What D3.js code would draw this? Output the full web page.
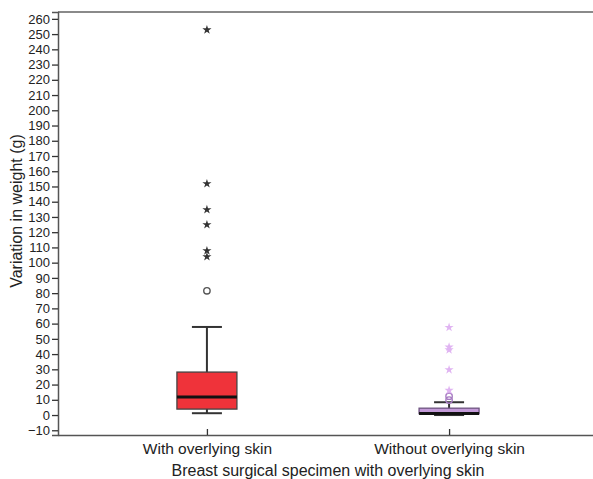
<!DOCTYPE html>
<html>
<head>
<meta charset="utf-8">
<script src="https://cdn.jsdelivr.net/npm/d3@7"></script>
<style>
  html, body { margin: 0; padding: 0; background: #fff; }
  svg { display: block; font-family: "Liberation Sans", Arial, Helvetica, sans-serif; }
</style>
</head>
<body>
<svg id="chart" width="593" height="479"></svg>
<script>
// Groups on the x axis
const categories = ["With overlying skin", "Without overlying skin"];

// Box statistics per group (g)
const whiskerLow  = [1.2, 0];
const q1          = [3.9, 0.9];
const median      = [11.8, 1.0];
const q3          = [28.2, 4.5];
const whiskerHigh = [57.8, 8.4];

// Outliers: circles are mild, stars are extreme
const mildOutliers = [
  [81.5],
  [9.8, 12.4]
];
const extremeOutliers = [
  [252.8, 151.8, 134.8, 124.9, 107.8, 103.9],
  [57.5, 44.6, 42.8, 29.7, 16.2]
];

// Axis ticks
const yTicks = [-10, 0, 10, 20, 30, 40, 50, 60, 70, 80, 90, 100, 110, 120, 130,
  140, 150, 160, 170, 180, 190, 200, 210, 220, 230, 240, 250, 260];

const boxFill = ["#ef333a", "#c39ad8"];
const boxStroke = ["#444444", "#6e5380"];
const outlierColor = ["#333333", "#e0b4f2"];
const circleStroke = ["#555555", "#a77cc2"];

const svg = d3.select("#chart");
const plot = { left: 58, right: 598, top: 12, bottom: 435 };

const x = d3.scalePoint()
  .domain(categories)
  .range([plot.left, plot.right])
  .padding(0.615);

const y = d3.scaleLinear()
  .domain([-13.1, 264.5])
  .range([plot.bottom, plot.top]);

const boxW = 60, capW = 30;

// frame: light top border
svg.append("line")
  .attr("x1", plot.left).attr("x2", plot.right)
  .attr("y1", plot.top).attr("y2", plot.top)
  .attr("stroke", "#8a8a8a").attr("stroke-width", 2);

// y axis
const yAxis = svg.append("g")
  .attr("transform", `translate(${plot.left},0)`)
  .call(d3.axisLeft(y).tickValues(yTicks).tickSize(6).tickPadding(2));
yAxis.select(".domain").attr("stroke", "#555").attr("stroke-width", 1.5);
yAxis.selectAll(".tick line").attr("stroke", "#333").attr("stroke-width", 1.3);
yAxis.selectAll(".tick text").attr("font-size", 13).attr("fill", "#222")
  .attr("font-family", "Liberation Sans, Arial, sans-serif");

// x axis
const xAxis = svg.append("g")
  .attr("transform", `translate(0,${plot.bottom})`)
  .call(d3.axisBottom(x).tickSize(6).tickSizeOuter(0).tickPadding(3));
xAxis.select(".domain").attr("stroke", "#555").attr("stroke-width", 1.5);
xAxis.selectAll(".tick line").attr("stroke", "#333").attr("stroke-width", 1.3)
  .attr("y2", -6);
xAxis.selectAll(".tick text").attr("font-size", 15.5).attr("fill", "#222")
  .attr("y", 8)
  .attr("font-family", "Liberation Sans, Arial, sans-serif");

// axis titles
svg.append("text")
  .attr("x", 328).attr("y", 476)
  .attr("text-anchor", "middle")
  .attr("font-size", 16).attr("fill", "#222")
  .text("Breast surgical specimen with overlying skin");

svg.append("text")
  .attr("transform", `translate(22,${(y(262) + y(-10)) / 2 - 12}) rotate(-90)`)
  .attr("text-anchor", "middle")
  .attr("font-size", 16).attr("fill", "#222")
  .text("Variation in weight (g)");

// boxes
const groups = svg.append("g").selectAll("g")
  .data(categories)
  .join("g")
  .attr("transform", d => `translate(${x(d)},0)`);

// whisker stems
groups.append("line")
  .attr("x1", 0).attr("x2", 0)
  .attr("y1", (d, i) => y(whiskerLow[i]))
  .attr("y2", (d, i) => y(whiskerHigh[i]))
  .attr("stroke", "#333").attr("stroke-width", 2);

// whisker caps
groups.each(function (d, i) {
  const g = d3.select(this);
  [whiskerLow[i], whiskerHigh[i]].forEach(v => {
    g.append("line")
      .attr("x1", -capW / 2).attr("x2", capW / 2)
      .attr("y1", y(v)).attr("y2", y(v))
      .attr("stroke", "#333").attr("stroke-width", 2);
  });
});

// box bodies
groups.append("rect")
  .attr("x", -boxW / 2).attr("width", boxW)
  .attr("y", (d, i) => y(q3[i]))
  .attr("height", (d, i) => y(q1[i]) - y(q3[i]))
  .attr("fill", (d, i) => boxFill[i])
  .attr("stroke", (d, i) => boxStroke[i]).attr("stroke-width", 1.3);

// medians
groups.append("line")
  .attr("x1", -boxW / 2).attr("x2", boxW / 2)
  .attr("y1", (d, i) => y(median[i]))
  .attr("y2", (d, i) => y(median[i]))
  .attr("stroke", "#111").attr("stroke-width", 3);

// mild outliers (circles)
groups.each(function (d, i) {
  d3.select(this).selectAll("circle.mild")
    .data(mildOutliers[i])
    .join("circle")
    .attr("class", "mild")
    .attr("cx", 0).attr("cy", v => y(v))
    .attr("r", 3.2)
    .attr("fill", "none")
    .attr("stroke", circleStroke[i]).attr("stroke-width", 1.4);
});

// extreme outliers (stars)
const star = d3.symbol().type(d3.symbolStar).size(26);
groups.each(function (d, i) {
  d3.select(this).selectAll("path.extreme")
    .data(extremeOutliers[i])
    .join("path")
    .attr("class", "extreme")
    .attr("d", star)
    .attr("transform", v => `translate(0,${y(v)})`)
    .attr("fill", outlierColor[i]);
});
</script>
</body>
</html>
